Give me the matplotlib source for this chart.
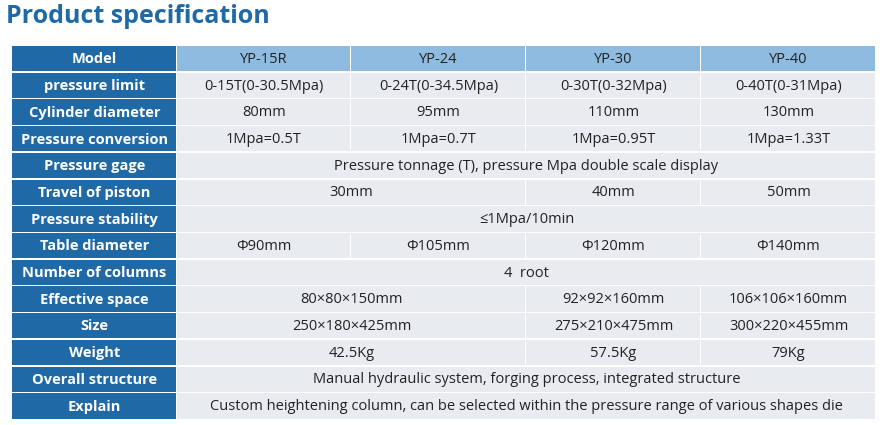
import matplotlib
matplotlib.use("Agg")
import matplotlib.pyplot as plt
from matplotlib.patches import Rectangle

plt.rcParams['font.family'] = ['Open Sans', 'Noto Sans CJK SC', 'DejaVu Sans']

title = "Product specification"
models = ["YP-15R", "YP-24", "YP-30", "YP-40"]
row_labels = ["Model", "pressure limit", "Cylinder diameter", "Pressure conversion",
              "Pressure gage", "Travel of piston", "Pressure stability", "Table diameter",
              "Number of columns", "Effective space", "Size", "Weight",
              "Overall structure", "Explain"]
# each row: list of (text, span)
row_values = [
    [(m, 1) for m in models],
    [("0-15T(0-30.5Mpa)", 1), ("0-24T(0-34.5Mpa)", 1), ("0-30T(0-32Mpa)", 1), ("0-40T(0-31Mpa)", 1)],
    [("80mm", 1), ("95mm", 1), ("110mm", 1), ("130mm", 1)],
    [("1Mpa=0.5T", 1), ("1Mpa=0.7T", 1), ("1Mpa=0.95T", 1), ("1Mpa=1.33T", 1)],
    [("Pressure tonnage (T), pressure Mpa double scale display", 4)],
    [("30mm", 2), ("40mm", 1), ("50mm", 1)],
    [("≤1Mpa/10min", 4)],
    [("Φ90mm", 1), ("Φ105mm", 1), ("Φ120mm", 1), ("Φ140mm", 1)],
    [("4  root", 4)],
    [("80×80×150mm", 2), ("92×92×160mm", 1), ("106×106×160mm", 1)],
    [("250×180×425mm", 2), ("275×210×475mm", 1), ("300×220×455mm", 1)],
    [("42.5Kg", 2), ("57.5Kg", 1), ("79Kg", 1)],
    [("Manual hydraulic system, forging process, integrated structure", 4)],
    [("Custom heightening column, can be selected within the pressure range of various shapes die", 4)],
]

W, H = 891, 425
fig = plt.figure(figsize=(W / 100, H / 100), dpi=100)
ax = fig.add_axes([0, 0, 1, 1])
ax.set_xlim(0, W)
ax.set_ylim(H, 0)
ax.axis('off')

dark = "#1f69a7"
light = "#8fbbe0"
cell = "#e8ebef"

ax.text(6, 16, title, fontsize=18, fontweight='bold', color=dark, va='center', ha='left')

xs = [12, 177, 351, 526, 701, 876]
top, bottom = 46, 420
rh = (bottom - top) / len(row_labels)
gap = 1.5

for i, (lab, vals) in enumerate(zip(row_labels, row_values)):
    y0 = top + i * rh
    ax.add_patch(Rectangle((xs[0], y0), xs[1] - xs[0] - gap, rh - gap, color=dark, lw=0))
    ax.text((xs[0] + xs[1]) / 2, y0 + rh / 2, lab, color='white', fontsize=10.5,
            fontweight='bold', ha='center', va='center')
    c = 1
    for txt, span in vals:
        x0, x1 = xs[c], xs[c + span]
        ax.add_patch(Rectangle((x0, y0), x1 - x0 - gap, rh - gap,
                               color=light if i == 0 else cell, lw=0))
        ax.text((x0 + x1) / 2, y0 + rh / 2, txt, color='#222222', fontsize=10.5,
                ha='center', va='center')
        c += span

fig.savefig("out.png", dpi=100)
